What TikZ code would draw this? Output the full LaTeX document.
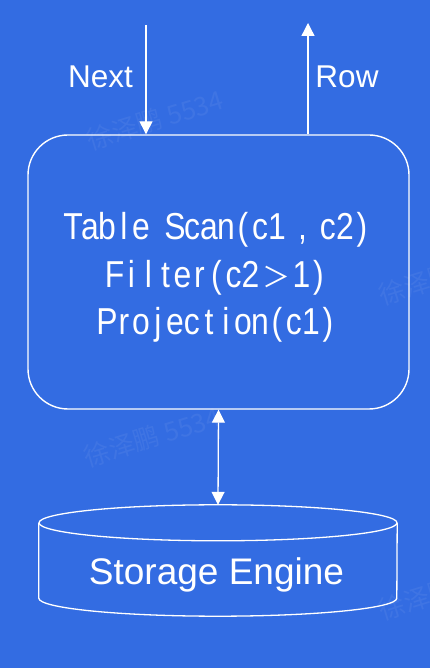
\documentclass[tikz,border=0pt]{standalone}
\usepackage{fontspec}
\usetikzlibrary{arrows.meta,calc}
\newfontfamily\labelfont{Liberation Sans}
\newfontfamily\opfont[FakeStretch=0.85]{Liberation Sans}
\newfontfamily\fwfont{Noto Sans CJK SC}
\newfontfamily\wmfont{Noto Sans CJK SC}
\newcommand{\fwch}[1]{\makebox[34pt]{\fwfont\fontsize{28}{44}\selectfont #1}}
\def\rkend{\rkend}
\newcommand{\mono}[1]{\monoA#1\rkend}
\def\monoA#1{\ifx\rkend#1\else\makebox[17pt]{#1}\expandafter\monoA\fi}
\definecolor{bgblue}{RGB}{51,108,226}
\begin{document}
\begin{tikzpicture}[x=1pt,y=1pt,
  wline/.style={white, line width=1.3pt},
  arr/.style={wline, -{Triangle[width=13pt,length=13pt]}},
  biarr/.style={wline, {Triangle[width=13pt,length=13pt]}-{Triangle[width=13pt,length=13pt]}},
  lbl/.style={text=white, font=\labelfont\fontsize{31.5}{36}\selectfont, inner sep=0pt, anchor=base},
  optext/.style={text=white, font=\opfont\fontsize{37.5}{44}\selectfont, inner sep=0pt, anchor=base},
  opbox/.style={draw=white, line width=1.4pt, rounded corners=40pt, minimum width=381pt, minimum height=274pt, inner sep=0pt},
  store/.style={inner sep=0pt, minimum width=358pt, minimum height=111pt},
  stlabel/.style={text=white, font=\labelfont\fontsize{37}{44}\selectfont, inner sep=0pt, anchor=base},
  wm/.style={text=white, opacity=0.06, font=\wmfont\fontsize{26}{30}\selectfont, rotate=17, inner sep=0pt}
]
\fill[bgblue] (0,0) rectangle (430,668);
\useasboundingbox (0,0) rectangle (430,668);

% watermarks
\node[wm] (wm1) at (155,548) {徐泽鹏 5534};
\node[wm] (wm2) at (152,231) {徐泽鹏 5534};
\node[wm] (wm3) at (447,393) {徐泽鹏 5534};
\node[wm] (wm4) at (447,78) {徐泽鹏 5534};

% operator box
\node[opbox] (box) at (218.5,396) {};
\node[optext] (l1) at (217.5,428) {\mono{Table~Scan(c1}\makebox[34pt]{,}\mono{c2)}};
\node[optext] (l2) at (216.5,380) {\mono{Filter(c2}\fwch{＞}\mono{1)}};
\node[optext] (l3) at (217.5,333) {\mono{Projection(c1)}};

% labels and arrows at top
\node[lbl] (next) at (100.5,580) {Next};
\node[lbl] (row) at (347,580) {Row};
\coordinate (nextstart) at (146,643);
\coordinate (rowend) at (308,645);
\draw[arr] (nextstart) -- (nextstart |- box.north);
\draw[arr] (rowend |- box.north) -- (rowend);

% storage engine cylinder
\node[store] (se) at (218,107.5) {};
\draw[wline] ($(se.north)+(0,-18)$) ellipse [x radius=179pt, y radius=18pt];
\draw[wline] ($(se.north west)+(0,-18)$) -- ($(se.south west)+(0,18)$)
  arc[start angle=180, end angle=360, x radius=179pt, y radius=18pt]
  -- ($(se.north east)+(0,-18)$);
\node[stlabel] (setext) at (216.5,83) {Storage Engine};

\draw[biarr] (box.south) -- (se.north);
\end{tikzpicture}
\end{document}
